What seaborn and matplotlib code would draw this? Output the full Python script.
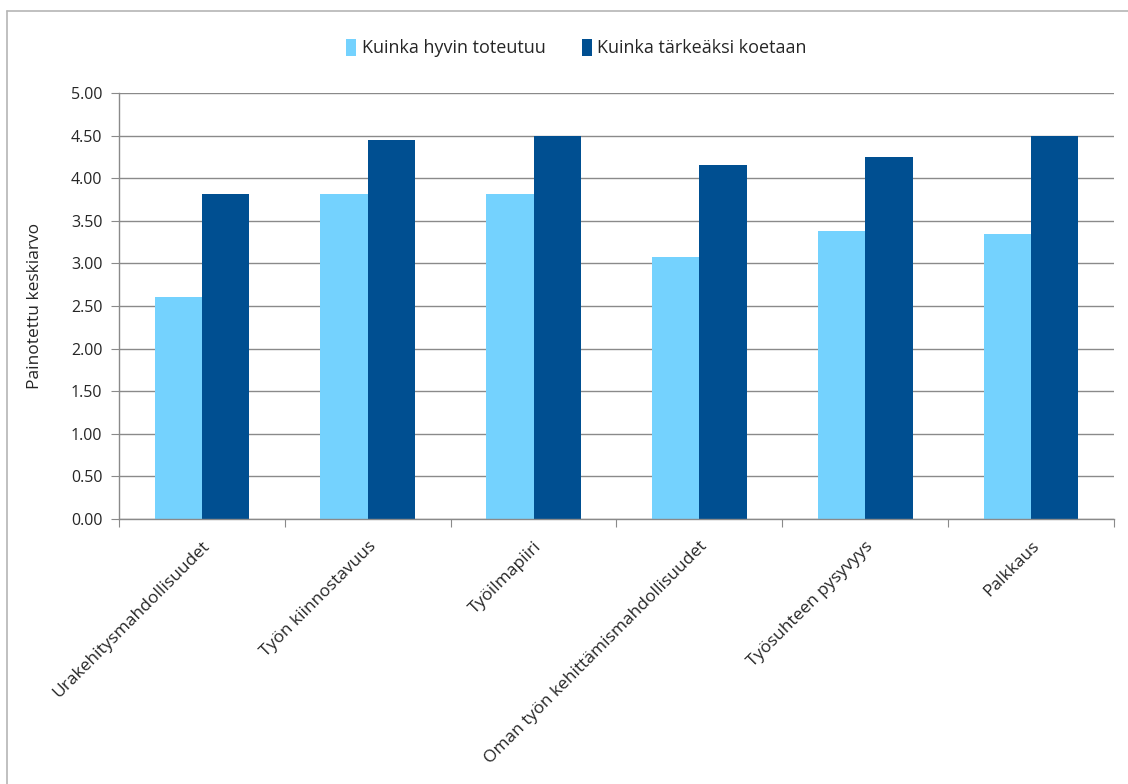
import matplotlib
matplotlib.use("Agg")
import matplotlib.pyplot as plt
import seaborn as sns
import pandas as pd
from matplotlib.patches import Rectangle
from matplotlib.lines import Line2D

categories = ["Urakehitysmahdollisuudet", "Työn kiinnostavuus", "Työilmapiiri",
              "Oman työn kehittämismahdollisuudet", "Työsuhteen pysyvyys", "Palkkaus"]
series_names = ["Kuinka hyvin toteutuu", "Kuinka tärkeäksi koetaan"]
toteutuu = [2.61, 3.81, 3.82, 3.07, 3.38, 3.35]
tarkea = [3.82, 4.45, 4.50, 4.16, 4.25, 4.50]
yticks = [0.0, 0.5, 1.0, 1.5, 2.0, 2.5, 3.0, 3.5, 4.0, 4.5, 5.0]
colors = ["#74D2FE", "#004F91"]

df = pd.DataFrame({
    "cat": categories * 2,
    "series": [series_names[0]] * len(categories) + [series_names[1]] * len(categories),
    "value": toteutuu + tarkea,
})

sns.set_style("white")
plt.rcParams["font.family"] = ["Open Sans", "DejaVu Sans"]

fig = plt.figure(figsize=(11.28, 7.84), dpi=100)
ax = fig.add_axes([119 / 1128, 1 - 519 / 784, (1114 - 119) / 1128, (519 - 93) / 784])

sns.barplot(data=df, x="cat", y="value", hue="series", order=categories,
            hue_order=series_names, palette=colors, width=0.57, saturation=1,
            ax=ax, legend=False, edgecolor="none", linewidth=0)

ax.set_ylim(0, 5)
ax.set_xlim(-0.5, len(categories) - 0.5)
ax.set_yticks(yticks)
ax.set_yticklabels([f"{v:.2f}" for v in yticks], fontsize=11.5)
ax.yaxis.grid(True, color="#8a8a8a", linewidth=1)
ax.set_axisbelow(True)
for s in ["top", "right"]:
    ax.spines[s].set_visible(False)
for s in ["left", "bottom"]:
    ax.spines[s].set_color("#8a8a8a")
    ax.spines[s].set_linewidth(1)

ax.tick_params(axis="y", left=True, length=6, color="#8a8a8a", pad=6)
# x ticks at category boundaries
ax.set_xticks([i - 0.5 for i in range(len(categories) + 1)], minor=False)
ax.set_xticklabels([""] * (len(categories) + 1))
ax.tick_params(axis="x", bottom=True, length=6, color="#8a8a8a")
ax.set_xticks(range(len(categories)), minor=True)
ax.set_xticklabels(categories, minor=True, rotation=45, ha="right",
                   rotation_mode="anchor", fontsize=12.5)
ax.tick_params(axis="x", which="minor", length=0, pad=14)

ax.set_xlabel("")
ax.set_ylabel("Painotettu keskiarvo", fontsize=12.5)
ax.yaxis.set_label_coords(-(119 - 43) / 995, 0.5)

handles = [Rectangle((0, 0), 1, 1, facecolor=c, edgecolor="none") for c in colors]
fig.legend(handles, series_names, loc="center", bbox_to_anchor=(0.511, 1 - 48 / 784),
           ncol=2, frameon=False, fontsize=13, handlelength=0.55, handleheight=1.1,
           handletextpad=0.3, columnspacing=2.0)

# outer chart border
fig.add_artist(Line2D([7 / 1128, 1.0], [1 - 11 / 784, 1 - 11 / 784], color="#b5b5b5", linewidth=1.2))
fig.add_artist(Line2D([7 / 1128, 7 / 1128], [0, 1 - 11 / 784], color="#b5b5b5", linewidth=1.2))

fig.savefig("out.png", dpi=100)
